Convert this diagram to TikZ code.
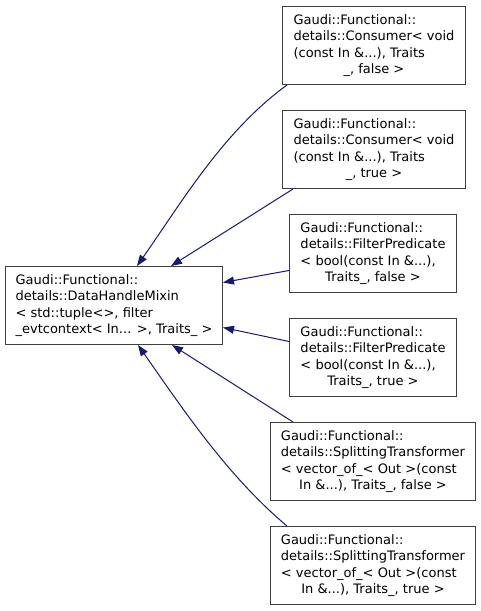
\documentclass[tikz,border=0pt]{standalone}
\usepackage{fontspec}
\usepackage{tikz}
\usetikzlibrary{arrows.meta}
\newfontfamily\dejavu{DejaVu Sans}
\definecolor{geceMavi}{HTML}{191970}
\definecolor{kenarGri}{HTML}{404040}

\begin{document}
\begin{tikzpicture}[x=1pt,y=-1pt,
  sinif/.style={draw=kenarGri,line width=1pt,fill=white,anchor=north west,align=left,
    inner sep=0pt,minimum height=78,font=\dejavu\fontsize{13}{16.3}\selectfont},
  kalitim/.style={geceMavi,line width=1pt,{Triangle[length=11pt,width=8pt]}-}]
\useasboundingbox (0,0) rectangle (481,611);
% taban sinif
\node[sinif,minimum width=217] (taban) at (5,266)
  {Gaudi::Functional::\\details::DataHandleMixin\\< std::tuple<>, filter\\\_evtcontext< In... >, Traits\_ >};
% turetilmis siniflar
\node[sinif,minimum width=183] (tuketiciF) at (282,6)
  {Gaudi::Functional::\\details::Consumer< void\\(const In \&...), Traits\\\hspace*{\fill}\_, false >\hspace*{\fill}};
\node[sinif,minimum width=183] (tuketiciT) at (282,110)
  {Gaudi::Functional::\\details::Consumer< void\\(const In \&...), Traits\\\hspace*{\fill}\_, true >\hspace*{\fill}};
\node[sinif,minimum width=167] (filtreF) at (289,214)
  {Gaudi::Functional::\\details::FilterPredicate\\< bool(const In \&...),\\\hspace*{\fill}Traits\_, false >\hspace*{\fill}};
\node[sinif,minimum width=167] (filtreT) at (289,318)
  {Gaudi::Functional::\\details::FilterPredicate\\< bool(const In \&...),\\\hspace*{\fill}Traits\_, true >\hspace*{\fill}};
\node[sinif,minimum width=205] (bolenF) at (270,422)
  {Gaudi::Functional::\\details::SplittingTransformer\\< vector\_of\_< Out >(const\\\hspace*{\fill}In \&...), Traits\_, false >\hspace*{\fill}};
\node[sinif,minimum width=205] (bolenT) at (270,526)
  {Gaudi::Functional::\\details::SplittingTransformer\\< vector\_of\_< Out >(const\\\hspace*{\fill}In \&...), Traits\_, true >\hspace*{\fill}};
% kalitim oklari
\draw[kalitim] ([xshift=132pt]taban.north west) to[out=55,in=216,looseness=0.85] ([xshift=5pt]tuketiciF.south west);
\draw[kalitim] ([xshift=166pt]taban.north west) -- ([xshift=11pt]tuketiciT.south west);
\draw[kalitim] ([yshift=23pt]taban.east) -- ([yshift=-17pt]filtreF.west);
\draw[kalitim] ([yshift=-22pt]taban.east) -- ([yshift=16pt]filtreT.west);
\draw[kalitim] ([xshift=167pt]taban.south west) -- ([xshift=23pt]bolenF.north west);
\draw[kalitim] ([xshift=133pt]taban.south west) to[out=-55,in=140,looseness=0.85] ([xshift=17pt]bolenT.north west);
\end{tikzpicture}
\end{document}
